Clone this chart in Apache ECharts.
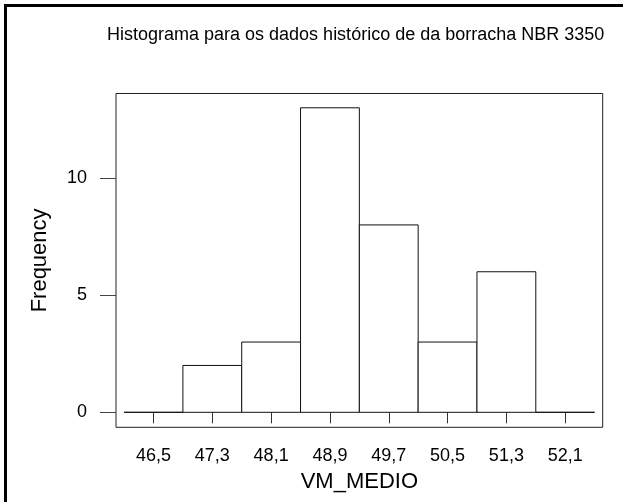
<!DOCTYPE html>
<html>
<head>
<meta charset="utf-8">
<script src="https://cdn.jsdelivr.net/npm/echarts@6/dist/echarts.min.js"></script>
<style>
    html, body {margin: 0; padding: 0; background: #fff;}
    #frame {position: absolute; left: 4px; top: 4px; width: 619px; height: 498px;
        border-left: 3px solid #000; border-top: 3px solid #000; box-sizing: border-box;}
    #main {position: absolute; left: 0; top: 0; width: 623px; height: 502px;}
</style>
</head>
<body>
<div id="frame"></div>
<div id="main"></div>
<script>
// histogram bins (midpoints) and counts
const binMids = [46.5, 47.3, 48.1, 48.9, 49.7, 50.5, 51.3, 52.1];
const counts = [0, 2, 3, 13, 8, 3, 6, 0];
const binWidth = 0.8;

const xTicks = [46.5, 47.3, 48.1, 48.9, 49.7, 50.5, 51.3, 52.1];
const xTickLabels = ['46,5', '47,3', '48,1', '48,9', '49,7', '50,5', '51,3', '52,1'];
const yTicks = [0, 5, 10];

const font = 'Liberation Sans';

const bars = binMids.map((m, i) => [m - binWidth / 2, m + binWidth / 2, counts[i]]);

function renderBar(params, api) {
    const p0 = api.coord([api.value(0), api.value(2)]);
    const p1 = api.coord([api.value(1), 0]);
    return {
        type: 'rect',
        shape: {x: p0[0], y: p0[1], width: p1[0] - p0[0], height: p1[1] - p0[1]},
        style: {fill: '#fff', stroke: '#111', lineWidth: 1}
    };
}

const option = {
    animation: false,
    title: {
        text: 'Histograma para os dados histórico de da borracha NBR 3350',
        left: 107,
        top: 26,
        padding: 0,
        textStyle: {fontFamily: font, fontSize: 18, fontWeight: 'normal', color: '#000'}
    },
    grid: {
        left: 116, top: 93.5, right: 20.3, bottom: 74.7,
        show: true, borderColor: '#222', borderWidth: 1, backgroundColor: 'transparent'
    },
    xAxis: {
        type: 'value',
        min: 45.99,
        max: 52.61,
        name: 'VM_MEDIO',
        nameLocation: 'middle',
        nameGap: 44,
        nameTextStyle: {fontFamily: font, fontSize: 22, color: '#000'},
        axisLine: {show: false},
        splitLine: {show: false},
        axisTick: {show: true, length: 11, customValues: xTicks, lineStyle: {color: '#333'}},
        axisLabel: {
            customValues: xTicks,
            margin: 19.5,
            fontFamily: font, fontSize: 18, color: '#000',
            formatter: v => xTickLabels[xTicks.indexOf(Math.round(v * 10) / 10)]
        }
    },
    yAxis: {
        type: 'value',
        min: -0.64,
        max: 13.61,
        name: 'Frequency',
        nameLocation: 'middle',
        nameGap: 65,
        nameTextStyle: {fontFamily: font, fontSize: 22, color: '#000'},
        axisLine: {show: false},
        splitLine: {show: false},
        axisTick: {show: true, length: 16, customValues: yTicks, lineStyle: {color: '#444'}},
        axisLabel: {
            customValues: yTicks,
            margin: 29,
            fontFamily: font, fontSize: 18, color: '#000'
        }
    },
    series: [
        {
            type: 'custom',
            renderItem: renderBar,
            encode: {x: [0, 1], y: 2},
            data: bars
        }
    ]
};

const myChart = echarts.init(document.getElementById('main'));
myChart.setOption(option);
</script>
</body>
</html>
